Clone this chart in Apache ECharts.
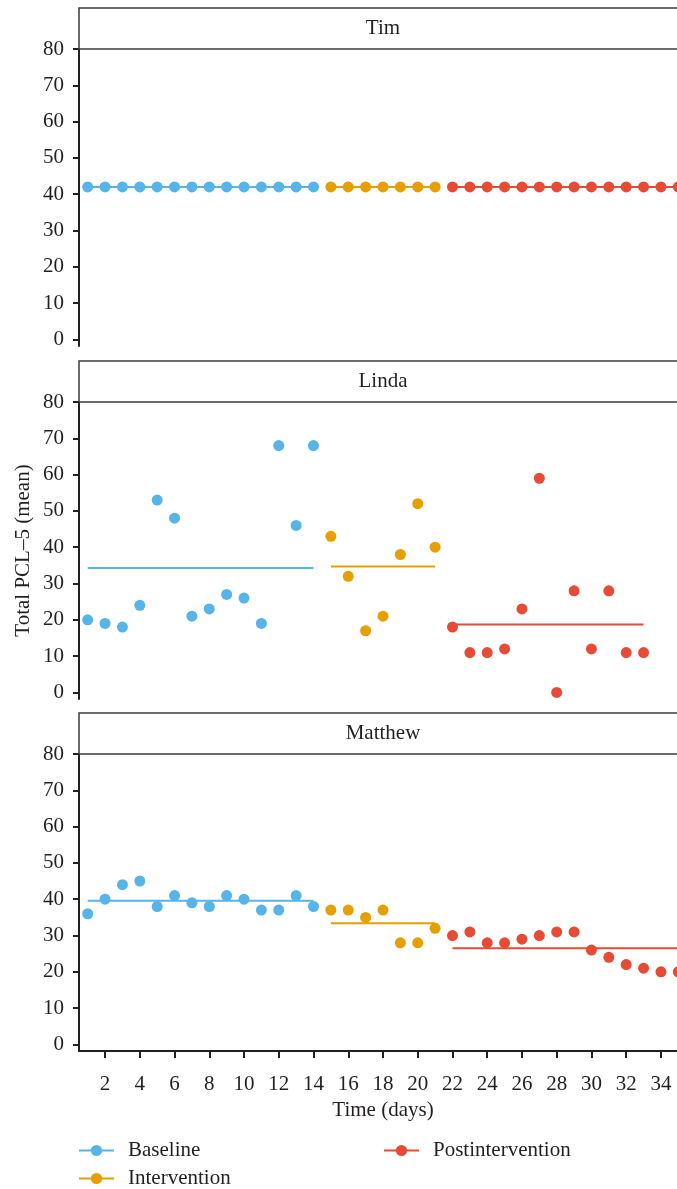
<!DOCTYPE html>
<html>
<head>
<meta charset="utf-8">
<script src="https://cdn.jsdelivr.net/npm/echarts@6/dist/echarts.min.js"></script>
<style>
html,body{margin:0;padding:0;background:#fff;}
#chart{width:677px;height:1189px;}
</style>
</head>
<body>
<div id="chart"></div>
<script>
// ---- data ----
const participants = ['Tim', 'Linda', 'Matthew'];
const phases = ['Baseline', 'Intervention', 'Postintervention'];
const xTickLabels = [2, 4, 6, 8, 10, 12, 14, 16, 18, 20, 22, 24, 26, 28, 30, 32, 34];
const yTickLabels = [0, 10, 20, 30, 40, 50, 60, 70, 80];

const baselineDays = [1, 2, 3, 4, 5, 6, 7, 8, 9, 10, 11, 12, 13, 14];
const interventionDays = [15, 16, 17, 18, 19, 20, 21];
const postDaysFull = [22, 23, 24, 25, 26, 27, 28, 29, 30, 31, 32, 33, 34, 35];
const postDaysLinda = [22, 23, 24, 25, 26, 27, 28, 29, 30, 31, 32, 33];

const timBaseline = [42, 42, 42, 42, 42, 42, 42, 42, 42, 42, 42, 42, 42, 42];
const timIntervention = [42, 42, 42, 42, 42, 42, 42];
const timPost = [42, 42, 42, 42, 42, 42, 42, 42, 42, 42, 42, 42, 42, 42];
const timMeans = [42, 42, 42];

const lindaBaseline = [20, 19, 18, 24, 53, 48, 21, 23, 27, 26, 19, 68, 46, 68];
const lindaIntervention = [43, 32, 17, 21, 38, 52, 40];
const lindaPost = [18, 11, 11, 12, 23, 59, 0, 28, 12, 28, 11, 11];
const lindaMeans = [34.3, 34.7, 18.7];

const matthewBaseline = [36, 40, 44, 45, 38, 41, 39, 38, 41, 40, 37, 37, 41, 38];
const matthewIntervention = [37, 37, 35, 37, 28, 28, 32];
const matthewPost = [30, 31, 28, 28, 29, 30, 31, 31, 26, 24, 22, 21, 20, 20];
const matthewMeans = [39.6, 33.4, 26.5];

const colors = ['#56B4E9', '#E69F00', '#E64B35'];

// ---- layout ----
const FONT = 'Liberation Serif';
const FS = 21;
const TXT = '#231f20';
const gridLeft = 79, gridW = 608, gridH = 297;
const gridTops = [49, 402, 754];
const stripH = 41;

const panels = [
  {days: [baselineDays, interventionDays, postDaysFull], vals: [timBaseline, timIntervention, timPost], means: timMeans},
  {days: [baselineDays, interventionDays, postDaysLinda], vals: [lindaBaseline, lindaIntervention, lindaPost], means: lindaMeans},
  {days: [baselineDays, interventionDays, postDaysFull], vals: [matthewBaseline, matthewIntervention, matthewPost], means: matthewMeans}
];

const grids = [], xAxes = [], yAxes = [], graphics = [];
const lineSeries = [], dotSeries = [];

panels.forEach((p, i) => {
  grids.push({left: gridLeft, width: gridW, top: gridTops[i], height: gridH, containLabel: false, outerBoundsMode: 'none'});
  const isBottom = i === panels.length - 1;
  xAxes.push({
    type: 'value', gridIndex: i, min: 0.5, max: 35.5,
    show: true,
    axisLine: {show: isBottom, onZero: false, lineStyle: {color: TXT, width: 2}},
    axisTick: {show: isBottom, length: 7, lineStyle: {color: TXT, width: 2}, customValues: xTickLabels},
    axisLabel: {show: isBottom, customValues: xTickLabels, margin: 23, fontFamily: FONT, fontSize: FS, color: TXT},
    splitLine: {show: false},
    name: isBottom ? 'Time (days)' : '',
    nameLocation: 'middle', nameGap: 49, nameMoveOverlap: false,
    nameTextStyle: {fontFamily: FONT, fontSize: FS, color: TXT}
  });
  yAxes.push({
    type: 'value', gridIndex: i, min: -1.8, max: 80,
    axisLine: {show: true, lineStyle: {color: TXT, width: 2}},
    axisTick: {show: true, length: 6, lineStyle: {color: TXT, width: 2}, customValues: yTickLabels},
    axisLabel: {customValues: yTickLabels, margin: 15, fontFamily: FONT, fontSize: FS, color: TXT},
    splitLine: {show: false},
    name: i === 1 ? 'Total PCL–5 (mean)' : '',
    nameLocation: 'middle', nameGap: 45, nameRotate: 90, nameMoveOverlap: false,
    nameTextStyle: {fontFamily: FONT, fontSize: FS, color: TXT}
  });
  phases.forEach((ph, k) => {
    const d = p.days[k];
    lineSeries.push({
      name: ph, type: 'line', xAxisIndex: i, yAxisIndex: i,
      data: [[d[0], p.means[k]], [d[d.length - 1], p.means[k]]],
      symbol: 'circle', showSymbol: false, silent: true,
      lineStyle: {color: colors[k], width: 2}, itemStyle: {color: colors[k]},
      z: 2, animation: false
    });
    dotSeries.push({
      name: ph, type: 'scatter', xAxisIndex: i, yAxisIndex: i,
      data: d.map((x, j) => [x, p.vals[k][j]]),
      symbol: 'circle', symbolSize: 11,
      itemStyle: {color: colors[k], opacity: 1},
      z: 3, animation: false
    });
  });
  // strip header
  graphics.push({
    type: 'rect', shape: {x: gridLeft, y: gridTops[i] - stripH, width: 700, height: stripH},
    style: {fill: '#fff', stroke: '#3a3a3a', lineWidth: 1.5}, z: 10
  });
  graphics.push({
    type: 'text', x: gridLeft + gridW / 2, y: gridTops[i] - stripH / 2,
    style: {text: participants[i], fontFamily: FONT, fontSize: FS, fill: TXT, align: 'center', verticalAlign: 'middle'},
    z: 11
  });
});

const legendCommon = {
  orient: 'vertical', top: 1140, height: 120, padding: 0,
  itemWidth: 35, itemHeight: 14, itemGap: 7, selectedMode: false,
  textStyle: {fontFamily: FONT, fontSize: FS, color: TXT, padding: [0, 0, 0, 9]}
};

const option = {
  animation: false,
  backgroundColor: '#fff',
  grid: grids,
  xAxis: xAxes,
  yAxis: yAxes,
  series: lineSeries.concat(dotSeries),
  legend: [
    Object.assign({data: ['Baseline', 'Intervention'], left: 78}, legendCommon),
    Object.assign({data: ['Postintervention'], left: 383}, legendCommon)
  ],
  graphic: graphics
};

const chart = echarts.init(document.getElementById('chart'), null, {renderer: 'canvas'});
chart.setOption(option);
</script>
</body>
</html>
